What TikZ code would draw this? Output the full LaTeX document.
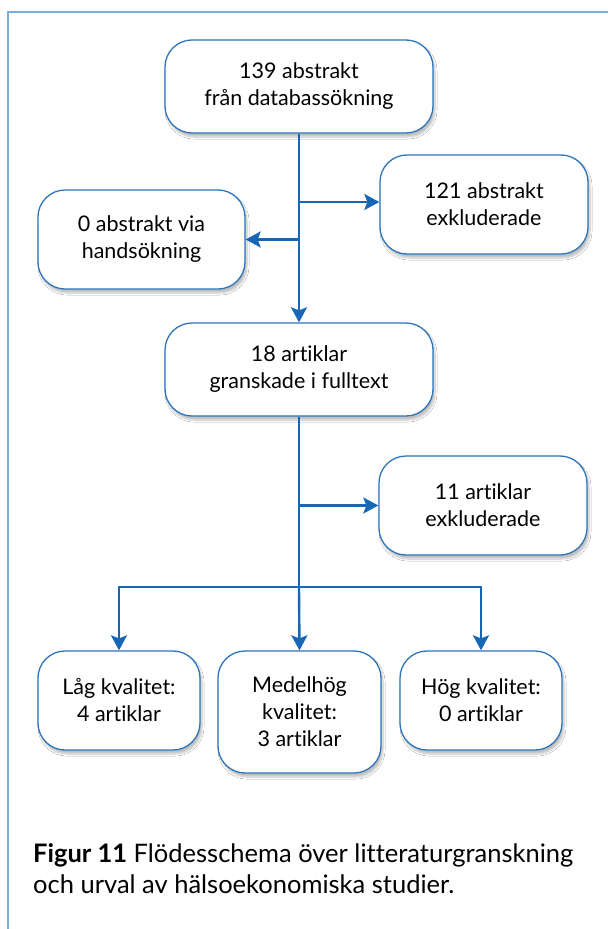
\documentclass[tikz,border=0pt]{standalone}
\usepackage{fontspec}
\setmainfont{Lato}[Ligatures={NoCommon}]
\usetikzlibrary{arrows.meta,shadows.blur}
\definecolor{boxblue}{HTML}{2C74BC}
\definecolor{arrblue}{HTML}{1767B6}
\definecolor{frameblue}{HTML}{78AEDD}
\begin{document}
\begin{tikzpicture}[x=1pt,y=-1pt,
  fbox/.style={draw=boxblue,line width=1.3pt,fill=white,rounded corners=27pt,
    align=center,inner sep=0pt,font=\fontsize{21.5}{27}\selectfont,
    blur shadow={shadow xshift=2pt,shadow yshift=-4pt,shadow blur steps=6,shadow opacity=25}},
  conn/.style={draw=arrblue,line width=2.4pt},
  arr/.style={conn,-{Stealth[length=15pt,width=16pt,inset=3pt]}},
  framel/.style={draw=frameblue,line width=2pt}]
\useasboundingbox (0,0) rectangle (608,929);
\fill[white] (0,0) rectangle (608,929);
\draw[framel] (8,929) -- (8,12) -- (608,12);

\node[fbox,minimum width=268pt,minimum height=93pt] (top) at (299,86.5) {139 abstrakt\\från databassökning};
\node[fbox,minimum width=208pt,minimum height=99pt] (ex1) at (484,204.5) {121 abstrakt\\exkluderade};
\node[fbox,minimum width=207pt,minimum height=99pt] (hand) at (141.5,239.5) {0 abstrakt via\\handsökning};
\node[fbox,minimum width=268pt,minimum height=93pt] (mid) at (299,369.5) {18 artiklar\\granskade i fulltext};
\node[fbox,minimum width=208pt,minimum height=99pt] (ex2) at (483,505.5) {11 artiklar\\exkluderade};
\node[fbox,minimum width=162pt,minimum height=99pt] (low) at (119,700.5) {Låg kvalitet:\\4 artiklar};
\node[fbox,minimum width=163pt,minimum height=122pt] (med) at (299.5,712) {Medelhög\\kvalitet:\\3 artiklar};
\node[fbox,minimum width=162pt,minimum height=99pt] (high) at (481,700.5) {Hög kvalitet:\\0 artiklar};

\draw[arr] (top.south) -- (mid.north);
\draw[arr] (top.south |- 0,202) -- (ex1.west |- 0,202);
\draw[arr] (top.south |- hand.east) -- (hand.east);
\coordinate (sp) at (mid.south |- 0,587);
\draw[conn] (mid.south) -- (sp);
\draw[arr] (mid.south |- ex2.west) -- (ex2.west);
\draw[arr] (sp) -| (low.north);
\draw[arr] (sp) -- (med.north);
\draw[arr] (sp) -| (high.north);

\node[anchor=north west,align=left,inner sep=0pt,font=\fontsize{25.5}{31}\selectfont] (cap) at (33,843)
  {\textbf{Figur 11} Flödesschema över litteraturgranskning\\och urval av hälsoekonomiska studier.};
\end{tikzpicture}
\end{document}
